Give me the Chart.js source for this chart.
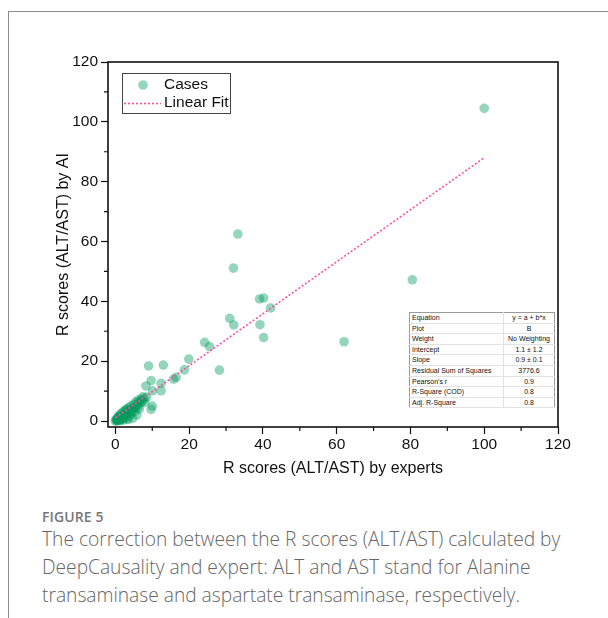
<!DOCTYPE html>
<html>
<head>
<meta charset="utf-8">
<script src="https://cdn.jsdelivr.net/npm/chart.js@4.4.1/dist/chart.umd.min.js"></script>
<style>
  body { margin: 0; background: #fff; width: 608px; height: 618px; overflow: hidden; position: relative; }
  .frame { position: absolute; left: 8px; top: 11px; right: -2px; bottom: -2px; border-left: 1.5px solid #8c8c8c; border-top: 1.5px solid #8c8c8c; }
  #wrap { position: absolute; left: 0; top: 0; width: 608px; height: 500px; }
  table.stats { position: absolute; left: 409px; top: 312px; width: 146px; border-collapse: collapse; border: 1px solid #9a9a9a;
    font-family: "Liberation Sans", Arial, sans-serif; font-size: 7px; color: #111; background: #fff; }
  table.stats td { height: 9.6px; padding: 0 2px; line-height: 9.6px; border-bottom: 1px solid #e2e2e2; white-space: nowrap; }
  table.stats td:last-child { text-align: center; border-left: 1px solid #e2e2e2; width: 46px; }
  .fig { position: absolute; left: 42px; top: 507px; font-family: "Open Sans", "Noto Sans", sans-serif; font-size: 14px; font-weight: 600; color: #777; letter-spacing: 0.1px; }
  .cap { position: absolute; left: 42px; top: 525px; width: 565px; font-family: "Open Sans", "Noto Sans", sans-serif; font-weight: 300;
    font-size: 19.2px; line-height: 28px; color: #666; }
</style>
</head>
<body>
<div class="frame"></div>
<div id="wrap"><canvas id="scatterChart"></canvas></div>
<table class="stats" id="statsTable"></table>
<div class="fig">FIGURE 5</div>
<div class="cap">The correction between the R scores (ALT/AST) calculated by DeepCausality and expert: ALT and AST stand for Alanine transaminase and aspartate transaminase, respectively.</div>
<script>
// expert score (x) vs AI score (y)
const caseX = [100, 80.5, 62, 33.2, 32, 39.1, 40.2, 42.1, 31, 32.1, 39.2, 40.2, 24.2, 25.5, 28.2, 19.9, 18.7, 16.5, 15.8,
  9, 13, 9.7, 12.4, 8.3, 10.1, 12.4, 7.4, 6.5, 10, 9.7,
  0, 0.2, 0.4, 0.5, 0.7, 0.8, 1, 1.1, 1.3, 1.5, 1.6, 1.8, 2, 2.1, 2.3, 2.5, 2.7, 2.9, 3, 3.2, 3.4, 3.6, 3.8, 4,
  4.2, 4.4, 4.7, 4.8, 5, 5.3, 5.5, 5.6, 5.8, 6, 6.2, 6.5, 6.8, 7, 7.3, 7.8, 8, 8.5, 0.3, 1.2, 2.2, 3.5,
  0.6, 1.4, 1.9, 2.6, 3.1, 3.9, 4.5, 5.2, 6.1, 0.9, 1.7, 2.4];
const caseY = [104.5, 47.2, 26.5, 62.5, 51.1, 40.8, 41.1, 37.8, 34.3, 32.1, 32.2, 27.9, 26.3, 24.9, 17, 20.7, 17.1, 14.6, 14,
  18.4, 18.7, 13.5, 12.6, 11.7, 10.1, 10.1, 8.1, 6.5, 5, 3.9,
  0, 0.5, 0.1, 1, 0.3, 1.5, 0.6, 2, 1.1, 0.3, 2.5, 1.4, 3, 0.9, 2.1, 3.4, 1.5, 4, 2.6, 0.8, 3.1, 4.5, 1.8, 3.8,
  5, 2.5, 0.9, 4.2, 5.6, 3.2, 6.3, 4.8, 2, 5.5, 7, 4, 6, 7.2, 6.6, 7.6, 6.2, 8, 0.2, 0.1, 0.3, 0.5,
  0.4, 1.2, 1.8, 2.4, 3.6, 3, 3.4, 4.4, 4.6, 1.3, 0.7, 1.6];

// linear fit end points
const fitX = [0, 100];
const fitY = [1.1, 88];

const tickValues = [0, 10, 20, 30, 40, 50, 60, 70, 80, 90, 100, 110, 120];

const statLabels = ["Equation", "Plot", "Weight", "Intercept", "Slope", "Residual Sum of Squares", "Pearson's r", "R-Square (COD)", "Adj. R-Square"];
const statValues = ["y = a + b*x", "B", "No Weighting", "1.1 \u00b1 1.2", "0.9 \u00b1 0.1", "3776.6", "0.9", "0.8", "0.8"];

const table = document.getElementById('statsTable');
statLabels.forEach((lab, i) => {
  const tr = document.createElement('tr');
  tr.innerHTML = '<td>' + lab + '</td><td>' + statValues[i] + '</td>';
  table.appendChild(tr);
});

const isMajor = v => v % 20 === 0;

// box round the plot + short minor ticks
const frameTicks = {
  id: 'frameTicks',
  afterDraw(chart) {
    const { ctx, chartArea: a, scales } = chart;
    ctx.save();
    ctx.strokeStyle = '#111';
    ctx.lineWidth = 1.6;
    ctx.strokeRect(a.left, a.top, a.right - a.left, a.bottom - a.top);
    ctx.lineWidth = 1.2;
    ctx.beginPath();
    tickValues.filter(v => !isMajor(v)).forEach(v => {
      const px = scales.x.getPixelForValue(v);
      ctx.moveTo(px, a.bottom); ctx.lineTo(px, a.bottom + 4);
      const py = scales.y.getPixelForValue(v);
      ctx.moveTo(a.left, py); ctx.lineTo(a.left - 4, py);
    });
    ctx.stroke();
    ctx.restore();
  }
};

// legend drawn inside the plot with a box, as in the original
const legendBox = {
  id: 'legendBox',
  afterDraw(chart) {
    const { ctx, chartArea: a } = chart;
    const pts = chart.data.datasets[1], fit = chart.data.datasets[0];
    const x0 = a.left + 14, y0 = a.top + 11;
    ctx.save();
    ctx.strokeStyle = '#444';
    ctx.lineWidth = 1;
    ctx.strokeRect(x0 + 0.5, y0 + 0.5, 108, 40);
    ctx.fillStyle = pts.backgroundColor;
    ctx.beginPath();
    ctx.arc(x0 + 21, y0 + 12, pts.pointRadius, 0, Math.PI * 2);
    ctx.fill();
    ctx.strokeStyle = fit.borderColor;
    ctx.lineWidth = fit.borderWidth;
    ctx.setLineDash(fit.borderDash);
    ctx.beginPath();
    ctx.moveTo(x0 + 2, y0 + 30.5); ctx.lineTo(x0 + 39, y0 + 30.5);
    ctx.stroke();
    ctx.setLineDash([]);
    ctx.fillStyle = '#111';
    ctx.font = '15.5px "Liberation Sans", Arial, sans-serif';
    ctx.textBaseline = 'middle';
    ctx.fillText(pts.label, x0 + 42, y0 + 12);
    ctx.fillText(fit.label, x0 + 42, y0 + 30);
    ctx.restore();
  }
};

const axisFont = { family: '"Liberation Sans", Arial, sans-serif', size: 15.5 };

function axis(title, size, horizontal) {
  return {
    type: 'linear',
    min: -2,
    max: 120,
    afterBuildTicks: s => { s.ticks = tickValues.map(v => ({ value: v })); },
    afterFit: s => { if (horizontal) s.height = size; else s.width = size; },
    border: { display: false },
    grid: {
      drawOnChartArea: false,
      drawTicks: true,
      tickLength: 7,
      tickWidth: 1.2,
      tickColor: c => isMajor(c.tick.value) ? '#111' : 'rgba(0,0,0,0)'
    },
    ticks: {
      autoSkip: false,
      maxRotation: 0,
      padding: horizontal ? 1 : 3,
      color: '#111',
      font: axisFont,
      callback: v => isMajor(v) ? String(v) : ''
    },
    title: {
      display: true,
      text: title,
      color: '#111',
      font: { family: axisFont.family, size: 16 },
      padding: { top: 4, bottom: 4 }
    }
  };
}

new Chart(document.getElementById('scatterChart'), {
  type: 'scatter',
  data: {
    datasets: [{
      type: 'line',
      label: 'Linear Fit',
      data: fitX.map((x, i) => ({ x: x, y: fitY[i] })),
      borderColor: '#ff4fa3',
      borderWidth: 1.6,
      borderDash: [2, 2],
      pointRadius: 0,
      fill: false,
      order: 0
    }, {
      label: 'Cases',
      data: caseX.map((x, i) => ({ x: x, y: caseY[i] })),
      backgroundColor: 'rgba(0,156,96,0.42)',
      borderWidth: 0,
      pointRadius: 4.8,
      order: 1
    }]
  },
  options: {
    responsive: true,
    maintainAspectRatio: false,
    animation: false,
    layout: { padding: { top: 62, left: 50, right: 50, bottom: 18 } },
    plugins: { legend: { display: false }, tooltip: { enabled: false } },
    scales: {
      x: axis('R scores (ALT/AST) by experts', 55, true),
      y: axis('R scores (ALT/AST) by AI', 58, false)
    }
  },
  plugins: [frameTicks, legendBox]
});
</script>
</body>
</html>
